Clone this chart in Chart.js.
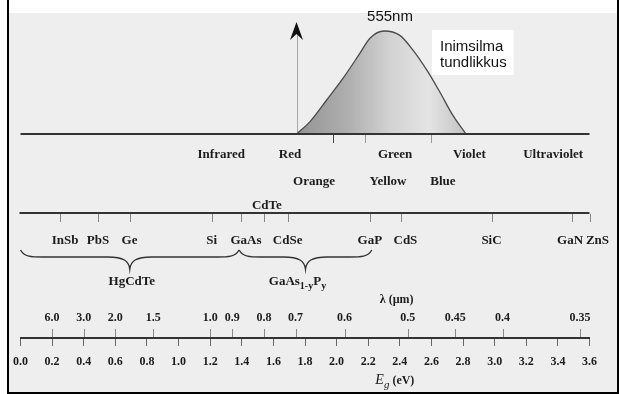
<!DOCTYPE html>
<html>
<head>
<meta charset="utf-8">
<script src="https://cdn.jsdelivr.net/npm/chart.js@4.4.1/dist/chart.umd.min.js"></script>
<style>
  html, body { margin: 0; padding: 0; background: #fff; }
  #wrap { position: relative; width: 620px; height: 394px; }
</style>
</head>
<body>
<div id="wrap"><canvas id="c" width="620" height="394"></canvas></div>
<script>
// Photon energy axis (eV)
const energyTicks = [0, 0.2, 0.4, 0.6, 0.8, 1.0, 1.2, 1.4, 1.6, 1.8, 2.0, 2.2, 2.4, 2.6, 2.8, 3.0, 3.2, 3.4, 3.6];

// Wavelength labels (µm) and the energy (eV) where each sits
const lambdaLabels = ['6.0', '3.0', '2.0', '1.5', '1.0', '0.9', '0.8', '0.7', '0.6', '0.5', '0.45', '0.4', '0.35'];
const lambdaEnergy = [0.20, 0.40, 0.60, 0.84, 1.20, 1.34, 1.54, 1.74, 2.05, 2.45, 2.75, 3.05, 3.54];

// Semiconductor band gaps (eV)
const materials = ['InSb', 'PbS', 'Ge', 'Si', 'GaAs', 'CdTe', 'CdSe', 'GaP', 'CdS', 'SiC', 'GaN', 'ZnS'];
const materialGap = [0.25, 0.49, 0.69, 1.21, 1.395, 1.54, 1.69, 2.21, 2.41, 2.98, 3.49, 3.60];

// Alloy systems spanning a range of band gaps (eV)
const alloyNames = ['HgCdTe', 'GaAs_{1-y}P_{y}'];
const alloyFrom = [0.0, 1.383];
const alloyTo = [1.383, 2.223];

// Spectral regions (label centres in eV) and colour boundaries
const regionUpper = ['Infrared', 'Red', 'Green', 'Violet', 'Ultraviolet'];
const regionUpperAt = [1.27, 1.705, 2.37, 2.84, 3.37];
const regionLower = ['Orange', 'Yellow', 'Blue'];
const regionLowerAt = [1.857, 2.325, 2.673];
const colourEdges = [1.98, 2.18, 2.60];
const visibleEdge = 1.745;

// Human eye sensitivity (relative) versus photon energy (eV)
const eyeEnergy = [1.747, 1.832, 1.937, 2.040, 2.148, 2.211, 2.300, 2.398, 2.483, 2.571, 2.654, 2.736, 2.818];
const eyeSensitivity = [0, 0.12, 0.33, 0.54, 0.785, 0.93, 1.0, 0.96, 0.815, 0.62, 0.405, 0.18, 0];
const peakLabel = '555nm';
const eyeLabel = ['Inimsilma', 'tundlikkus'];

const SERIF = '"Liberation Serif", "Times New Roman", serif';
const SANS = '"Liberation Sans", Arial, sans-serif';
const INK = '#1c1c1c';

// Vertical rows, in units of the hidden "y" scale (height above the energy axis)
const ROW = {
  topBase: 204, edgeTick: 195, arrowTip: 316, arrowBase: 298, arrowNotch: 304,
  peakText: 317, boxTop: 308, boxBottom: 263, eyeLine1: 287, eyeLine2: 271,
  upper: 180, lower: 153, cdte: 129,
  matLine: 125, matTick: 116, matText: 94,
  braceEnd: 88, braceBody: 81, braceTip: 69, alloyText: 53,
  lambdaTitle: 35, lambdaText: 17, lambdaTick: 9,
  egTitle: -46
};

function drawText(ctx, s, x, y, font, align, color) {
  ctx.font = font;
  ctx.textAlign = align || 'center';
  ctx.textBaseline = 'alphabetic';
  ctx.fillStyle = color || INK;
  ctx.fillText(s, x, y);
}

// Draws text with _{...} subscripts, centred on x
function drawSubText(ctx, s, cx, y, size) {
  const parts = [];
  const re = /_\{([^}]*)\}/g;
  let last = 0, m;
  while ((m = re.exec(s)) !== null) {
    if (m.index > last) parts.push({ t: s.slice(last, m.index), sub: false });
    parts.push({ t: m[1], sub: true });
    last = re.lastIndex;
  }
  if (last < s.length) parts.push({ t: s.slice(last), sub: false });
  const fontOf = p => 'bold ' + (p.sub ? size - 3 : size) + 'px ' + SERIF;
  let w = 0;
  parts.forEach(p => { ctx.font = fontOf(p); p.w = ctx.measureText(p.t).width; w += p.w; });
  let x = cx - w / 2;
  parts.forEach(p => {
    drawText(ctx, p.t, x, y + (p.sub ? 4 : 0), fontOf(p), 'left');
    x += p.w;
  });
}

function vLine(ctx, x, y1, y2, color, width) {
  ctx.strokeStyle = color;
  ctx.lineWidth = width || 1;
  const px = Math.round(x) + 0.5;
  ctx.beginPath();
  ctx.moveTo(px, y1);
  ctx.lineTo(px, y2);
  ctx.stroke();
}

function brace(ctx, x1, x2, xm, yEnd, yBody, yTip) {
  const r = 22;
  ctx.beginPath();
  ctx.moveTo(x1, yEnd);
  ctx.bezierCurveTo(x1 + 4, yBody, x1 + r * 0.5, yBody, x1 + r, yBody);
  ctx.lineTo(xm - r, yBody);
  ctx.bezierCurveTo(xm - 6, yBody, xm - 1, yBody + 4, xm, yTip);
  ctx.bezierCurveTo(xm + 1, yBody + 4, xm + 6, yBody, xm + r, yBody);
  ctx.lineTo(x2 - r, yBody);
  ctx.bezierCurveTo(x2 - r * 0.5, yBody, x2 - 4, yBody, x2, yEnd);
  ctx.strokeStyle = '#333';
  ctx.lineWidth = 1.4;
  ctx.stroke();
}

const diagram = {
  id: 'diagram',
  beforeDraw(chart) {
    const ctx = chart.ctx, W = chart.width, H = chart.height;
    ctx.save();
    ctx.fillStyle = '#ffffff';
    ctx.fillRect(0, 0, W, H);
    ctx.fillStyle = '#eeeeee';
    ctx.fillRect(9, 13, W - 12, H - 15);
    ctx.fillStyle = '#000';
    ctx.fillRect(7, 0, 2, H);
    ctx.fillRect(W - 3, 0, 2, H);
    ctx.fillRect(7, H - 2, W - 8, 2);
    ctx.restore();
  },
  beforeDatasetsDraw(chart) {
    const ctx = chart.ctx, x = chart.scales.x, y = chart.scales.y;
    const ax = Math.round(x.getPixelForValue(visibleEdge)) + 0.5;
    ctx.save();
    vLine(ctx, ax, y.getPixelForValue(ROW.topBase), y.getPixelForValue(ROW.arrowNotch), '#a8a8a8', 1);
    ctx.fillStyle = '#111';
    ctx.beginPath();
    ctx.moveTo(ax, y.getPixelForValue(ROW.arrowTip));
    ctx.lineTo(ax - 6.5, y.getPixelForValue(ROW.arrowBase));
    ctx.lineTo(ax, y.getPixelForValue(ROW.arrowNotch));
    ctx.lineTo(ax + 6.5, y.getPixelForValue(ROW.arrowBase));
    ctx.closePath();
    ctx.fill();
    ctx.restore();
  },
  afterDatasetsDraw(chart) {
    const ctx = chart.ctx, x = chart.scales.x, y = chart.scales.y;
    const X = v => x.getPixelForValue(v), Y = v => y.getPixelForValue(v);
    const left = X(energyTicks[0]), right = X(energyTicks[energyTicks.length - 1]);
    ctx.save();

    // visible spectrum baseline and colour boundaries
    ctx.fillStyle = '#333';
    ctx.fillRect(left, Y(ROW.topBase) - 1, right - left, 2);
    const edgeColours = ['#444', '#999', '#999'];
    colourEdges.forEach((e, i) => vLine(ctx, X(e), Y(ROW.topBase) + 1, Y(ROW.edgeTick), edgeColours[i], 1));

    // peak label and legend box
    drawText(ctx, peakLabel, X(eyeEnergy[eyeSensitivity.indexOf(1)]) + 6, Y(ROW.peakText), '15px ' + SANS, 'center', '#111');
    const tx = X(2.654);
    ctx.font = '15px ' + SANS;
    const tw = Math.max(...eyeLabel.map(s => ctx.measureText(s).width));
    ctx.fillStyle = '#ffffff';
    ctx.fillRect(tx - 8, Y(ROW.boxTop), tw + 15, Y(ROW.boxBottom) - Y(ROW.boxTop));
    drawText(ctx, eyeLabel[0], tx, Y(ROW.eyeLine1), '15px ' + SANS, 'left', '#111');
    drawText(ctx, eyeLabel[1], tx, Y(ROW.eyeLine2), '15px ' + SANS, 'left', '#111');

    // spectral region names
    const bold13 = 'bold 13px ' + SERIF;
    regionUpper.forEach((s, i) => drawText(ctx, s, X(regionUpperAt[i]), Y(ROW.upper), bold13));
    regionLower.forEach((s, i) => drawText(ctx, s, X(regionLowerAt[i]), Y(ROW.lower), bold13));

    // band gap line with material ticks
    ctx.fillStyle = '#333';
    ctx.fillRect(left - 1, Y(ROW.matLine) - 1, right - left + 1, 2);
    const nudge = { InSb: 5, GaAs: 5, CdS: 4, GaN: -2, ZnS: 8 };
    materials.forEach((m, i) => {
      const px = X(materialGap[i]);
      vLine(ctx, px, Y(ROW.matLine) + 1, Y(ROW.matTick), '#858585', 1);
      if (m === 'CdTe') {
        drawText(ctx, m, px + 3, Y(ROW.cdte), bold13);
      } else {
        drawText(ctx, m, px + (nudge[m] || 0), Y(ROW.matText), bold13);
      }
    });

    // alloy ranges
    alloyNames.forEach((n, i) => {
      const x1 = X(alloyFrom[i]), x2 = X(alloyTo[i]), xm = (x1 + x2) / 2;
      brace(ctx, x1, x2, xm, Y(ROW.braceEnd), Y(ROW.braceBody), Y(ROW.braceTip));
      drawSubText(ctx, n, xm + (i === 0 ? 2 : -8), Y(ROW.alloyText), 13);
    });

    // wavelength scale above the energy axis
    const bold12 = 'bold 12px ' + SERIF;
    lambdaEnergy.forEach((e, i) => {
      vLine(ctx, X(e), Y(ROW.lambdaTick), Y(0) - 1, '#888', 1);
      drawText(ctx, lambdaLabels[i], X(e), Y(ROW.lambdaText), bold12);
    });
    drawText(ctx, 'λ (µm)', X(2.38), Y(ROW.lambdaTitle), bold12);

    // energy axis title
    const ex = X(2.245);
    const ey = Y(ROW.egTitle);
    drawText(ctx, 'E', ex, ey, 'italic 14px ' + SERIF, 'left');
    ctx.font = 'italic 14px ' + SERIF;
    const ew = ctx.measureText('E').width;
    drawText(ctx, 'g', ex + ew, ey + 4, 'italic 11px ' + SERIF, 'left');
    ctx.font = 'italic 11px ' + SERIF;
    const gw = ctx.measureText('g').width;
    drawText(ctx, ' (eV)', ex + ew + gw, ey, bold12, 'left');

    ctx.restore();
  }
};

new Chart(document.getElementById('c'), {
  type: 'line',
  data: {
    datasets: [{
      label: 'eye',
      data: eyeEnergy.map((e, i) => ({ x: e, y: eyeSensitivity[i] })),
      yAxisID: 'sens',
      borderColor: '#4a4a4a',
      borderWidth: 1.3,
      pointRadius: 0,
      cubicInterpolationMode: 'monotone',
      fill: { value: 0 },
      backgroundColor(c) {
        const chart = c.chart;
        if (!chart.chartArea) return '#bbbbbb';
        const sx = chart.scales.x;
        const g = chart.ctx.createLinearGradient(sx.getPixelForValue(eyeEnergy[0]), 0,
          sx.getPixelForValue(eyeEnergy[eyeEnergy.length - 1]), 0);
        g.addColorStop(0, '#949494');
        g.addColorStop(0.3, '#aeaeae');
        g.addColorStop(0.55, '#d2d2d2');
        g.addColorStop(0.78, '#e4e4e4');
        g.addColorStop(1, '#c2c2c2');
        return g;
      }
    }]
  },
  options: {
    responsive: false,
    animation: false,
    events: [],
    layout: { padding: { left: 20.5, right: 30.5, top: 13, bottom: 0 } },
    plugins: { legend: { display: false }, tooltip: { enabled: false } },
    scales: {
      x: {
        type: 'linear',
        min: energyTicks[0],
        max: energyTicks[energyTicks.length - 1],
        afterBuildTicks(scale) { scale.ticks = energyTicks.map(v => ({ value: v })); },
        afterFit(scale) { scale.height = 56; },
        ticks: {
          autoSkip: false,
          maxRotation: 0,
          padding: 9,
          color: INK,
          font: { family: SERIF, size: 12, weight: 'bold' },
          callback: v => Number(v).toFixed(1)
        },
        grid: { drawOnChartArea: false, drawTicks: true, tickLength: 8, color: '#666', lineWidth: 1 },
        border: { display: true, color: '#333', width: 2 }
      },
      y: { type: 'linear', display: false, min: 0, max: 325 },
      sens: { type: 'linear', display: false, min: -1.98058, max: 1.17476 }
    }
  },
  plugins: [diagram]
});
</script>
</body>
</html>
